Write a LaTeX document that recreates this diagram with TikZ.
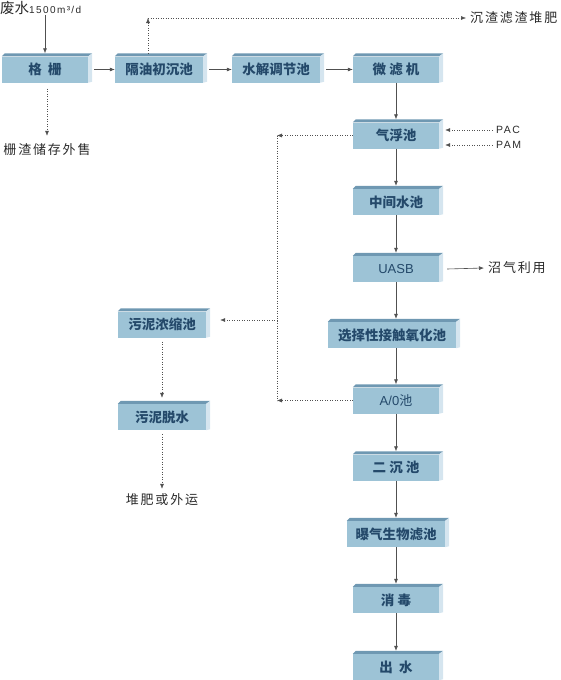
\documentclass[tikz,border=0pt]{standalone}
\usepackage{fontspec}
\setmainfont{Liberation Sans}
\newfontfamily\cjk{Noto Sans CJK SC}
\newfontfamily\cjksp[LetterSpace=14]{Noto Sans CJK SC}
\newfontfamily\latsp[LetterSpace=14]{Liberation Sans}
\usetikzlibrary{arrows.meta}

\definecolor{boxfront}{HTML}{9DC3D6}
\definecolor{boxtop}{HTML}{6F98B2}
\definecolor{boxside}{HTML}{D5E5EF}
\definecolor{boxtext}{HTML}{24496A}
\definecolor{linegray}{HTML}{505050}
\definecolor{labelgray}{HTML}{2A2A2A}

\tikzset{
  proc/.style={fill=boxfront, text=boxtext, minimum width=86pt, minimum height=26pt,
    inner sep=0pt, font=\cjk\bfseries\fontsize{13.5}{15}\selectfont},
  note/.style={text=labelgray, inner sep=0pt, font=\cjksp\fontsize{13}{15}\selectfont},
  flow/.style={draw=linegray, line width=0.6pt, -{Latex[length=5pt,width=4pt]}},
  waste/.style={draw=linegray, line width=0.5pt, dotted, -{Latex[length=5pt,width=4pt]}},
  wasteline/.style={draw=linegray, line width=0.5pt, dotted},
}

\begin{document}
\begin{tikzpicture}[x=1pt,y=-1pt]
    \useasboundingbox (0,0) rectangle (561,680);

    % Hauptlinie
    \node[proc] (gs) at (45,69.5) {格\ \ 栅};
    \node[proc, minimum width=88pt] (gy) at (159,69.5) {隔油初沉池};
    \node[proc, minimum width=88pt] (sj) at (276,69.5) {水解调节池};
    \node[proc] (wl) at (396,69.5) {微\ 滤\ 机};
    \node[proc] (qf) at (396,135.5) {气浮池};
    \node[proc] (zj) at (396,202) {中间水池};
    \node[proc, font=\fontsize{13}{15}\selectfont] (uasb) at (396,269) {UASB};
    \node[proc, minimum width=128pt] (xz) at (392,335) {选择性接触氧化池};
    \node[proc, font=\fontsize{13}{15}\selectfont] (ao) at (396,400.5) {A/0\cjk 池};
    \node[proc] (ec) at (396,467.5) {二\ 沉\ 池};
    \node[proc, minimum width=98pt] (pq) at (396,534) {曝气生物滤池};
    \node[proc] (xd) at (396,600) {消\ 毒};
    \node[proc] (cs) at (396,667) {出\ \ 水};

    % Schlammlinie
    \node[proc, minimum width=88pt] (wn) at (162,324.5) {污泥浓缩池};
    \node[proc, minimum width=88pt] (wt) at (162,417) {污泥脱水};

    % 3D-Flaechen
    \foreach \n in {gs,gy,sj,wl,qf,zj,uasb,xz,ao,ec,pq,xd,cs,wn,wt} {
        \fill[boxtop] (\n.north west) -- ++(3,-3) -- ([xshift=4pt,yshift=3pt]\n.north east)
            -- (\n.north east) -- cycle;
        \fill[boxside] (\n.north east) -- ++(4,-3) -- ([xshift=4pt,yshift=1pt]\n.south east)
            -- (\n.south east) -- cycle;
    }

    % Texte
    \node[anchor=west, inner sep=0pt, text=labelgray] (inlet) at (0,8)
        {\cjk\fontsize{14.5}{15}\selectfont 废水\latsp\fontsize{10}{12}\selectfont 1500m³/d};
    \node[note, anchor=west] (czf) at (470,18) {沉渣滤渣堆肥};
    \node[note] (zz) at (47,150) {栅渣储存外售};
    \node[note, font=\latsp\fontsize{10.5}{12}\selectfont, anchor=west] (pac) at (496,130) {PAC};
    \node[note, font=\latsp\fontsize{10.5}{12}\selectfont, anchor=west] (pam) at (496,145) {PAM};
    \node[note, anchor=west] (zq) at (488,268) {沼气利用};
    \node[note] (dfw) at (162,500) {堆肥或外运};

    % Hilfspunkte
    \coordinate (gyup) at (148,18);
    \coordinate (qfr) at ([xshift=6pt]qf.east);
    \coordinate (col1) at (277,135.5);
    \coordinate (col2) at (277,400.5);
    \coordinate (col3) at (277,320);

    % Wasserfluss
    \draw[flow] (gs.north |- inlet.south) -- ([yshift=3pt]gs.north);
    \draw[flow] ([xshift=6pt]gs.east) -- (gy.west);
    \draw[flow] ([xshift=6pt]gy.east) -- (sj.west);
    \draw[flow] ([xshift=6pt]sj.east) -- (wl.west);
    \foreach \a/\b in {wl/qf,qf/zj,zj/uasb,uasb/xz,xz/ao,ao/ec,ec/pq,pq/xd,xd/cs}
        \draw[flow] (\a.south -| wl) -- ([yshift=3pt]\b.north -| wl);
    \draw[flow] ([xshift=8pt]uasb.east) -- ([xshift=-4pt]zq.west);

    % Dosierung
    \draw[waste] ([xshift=-4pt]pac.west) -- (pac.west -| qfr);
    \draw[waste] ([xshift=-4pt]pam.west) -- (pam.west -| qfr);

    % Reststoffe
    \draw[waste] ([yshift=3pt]gy.north -| gyup) -- (gyup);
    \draw[waste] (gyup) -- ([xshift=-4pt]czf.west);
    \draw[waste] ([yshift=-6pt]gs.south -| zz) -- ([yshift=8pt]zz.north);

    % Schlamm
    \draw[waste] (qf.west) -- (col1);
    \draw[waste] (ao.west) -- (col2);
    \draw[wasteline] (col1) -- (col2);
    \draw[waste] (col3) -- ([xshift=14pt]wn.east |- col3);
    \draw[waste] ([yshift=-4pt]wn.south) -- ([yshift=6pt]wt.north);
    \draw[waste] ([yshift=-4pt]wt.south) -- ([yshift=5pt]dfw.north);
\end{tikzpicture}
\end{document}
